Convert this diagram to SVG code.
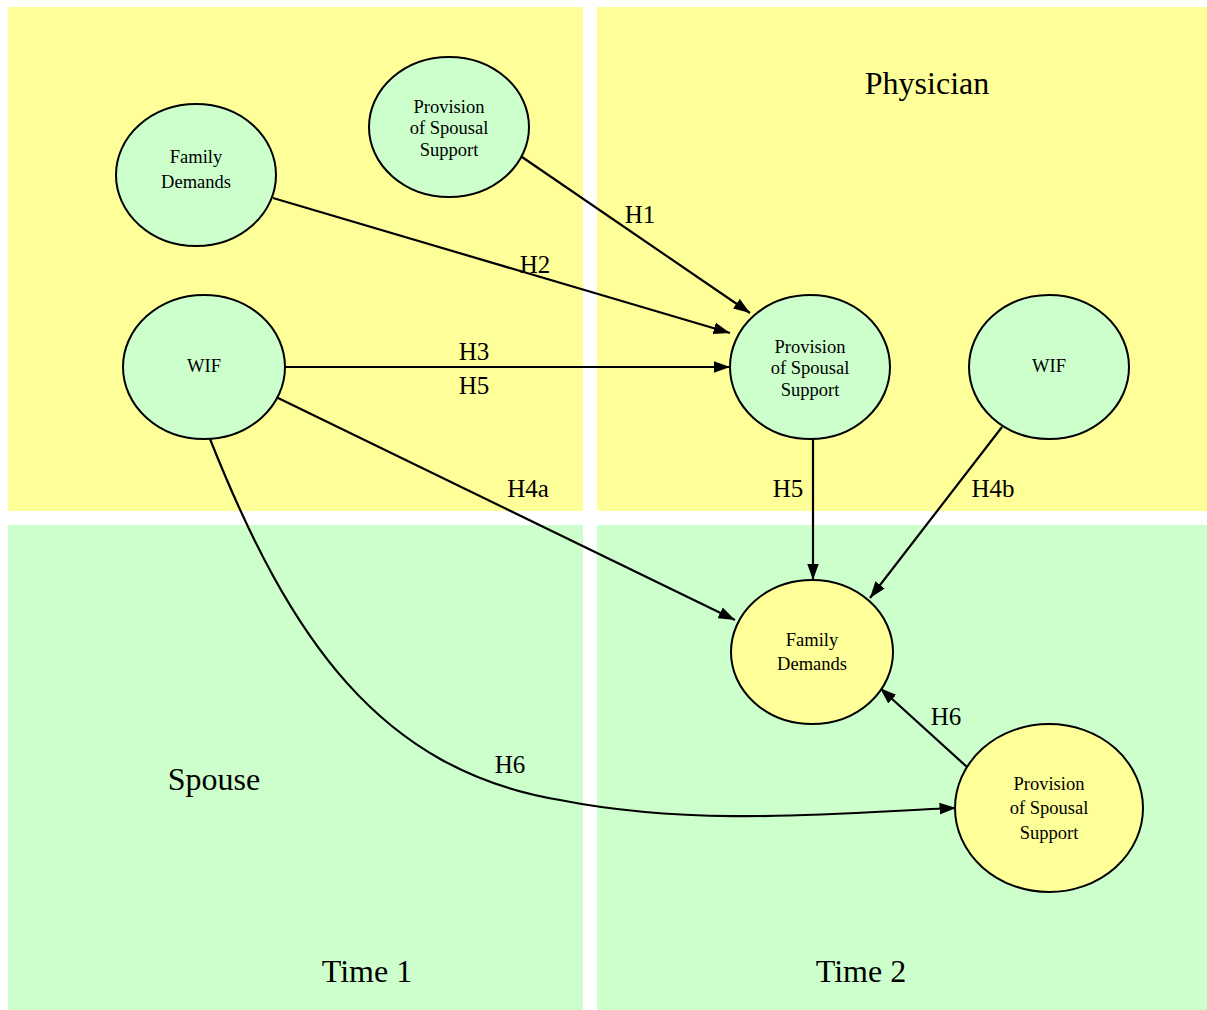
<svg xmlns="http://www.w3.org/2000/svg" width="1207" height="1010" viewBox="0 0 1207 1010">
<defs>
<style>
.node ellipse{stroke:#000;stroke-width:2}
.g{fill:#ccffcc}
.y{fill:#ffff99}
.nt{font-family:"Liberation Serif",serif;font-size:18.5px;fill:#000;text-anchor:middle}
.lbl{font-family:"Liberation Serif",serif;font-size:25px;fill:#000;text-anchor:middle}
.big{font-family:"Liberation Serif",serif;font-size:32px;fill:#000;text-anchor:middle}
.edge{fill:none;stroke:#000;stroke-width:2.2;marker-end:url(#ah)}
</style>
<marker id="ah" viewBox="0 0 14 10" refX="14" refY="5" markerWidth="7.5" markerHeight="5.4" markerUnits="strokeWidth" orient="auto">
<path d="M0,0 L14,5 L0,10 z" fill="#000"/>
</marker>
</defs>
<rect width="1207" height="1010" fill="#fff"/>
<g id="panels">
<rect x="8" y="7" width="575" height="504" fill="#ffff99"/>
<rect x="597" y="7" width="610" height="504" fill="#ffff99"/>
<rect x="8" y="525" width="575" height="485" fill="#ccffcc"/>
<rect x="597" y="525" width="610" height="485" fill="#ccffcc"/>
</g>
<g id="titles">
<text class="big" x="927" y="94">Physician</text>
<text class="big" x="214" y="790">Spouse</text>
<text class="big" x="367" y="982">Time 1</text>
<text class="big" x="861" y="982">Time 2</text>
</g>
<g id="connectors">
<path class="edge" d="M522,157 L750,313"/>
<path class="edge" d="M273,198 L730,333"/>
<path class="edge" d="M285,367 L730,367"/>
<path class="edge" d="M276,397 L735,620"/>
<path class="edge" d="M210,439 C290,640 380,770 560,800 C700,828 850,812 956,808"/>
<path class="edge" d="M813,439 L813,580"/>
<path class="edge" d="M1002,427 L870,598"/>
<path class="edge" d="M967,767 L880,688"/>
<text class="lbl" x="640" y="223">H1</text>
<text class="lbl" x="535" y="273">H2</text>
<text class="lbl" x="474" y="360">H3</text>
<text class="lbl" x="474" y="394">H5</text>
<text class="lbl" x="528" y="497">H4a</text>
<text class="lbl" x="510" y="773">H6</text>
<text class="lbl" x="788" y="497">H5</text>
<text class="lbl" x="993" y="497">H4b</text>
<text class="lbl" x="946" y="725">H6</text>
</g>
<g id="n_fd1" class="node">
<ellipse class="g" cx="196" cy="175" rx="80" ry="71"/>
<text class="nt" x="196" y="163">Family</text>
<text class="nt" x="196" y="188">Demands</text>
</g>
<g id="n_ps1" class="node">
<ellipse class="g" cx="449" cy="127" rx="80" ry="70"/>
<text class="nt" x="449" y="113">Provision</text>
<text class="nt" x="449" y="134">of Spousal</text>
<text class="nt" x="449" y="156">Support</text>
</g>
<g id="n_wif1" class="node">
<ellipse class="g" cx="204" cy="367" rx="81" ry="72"/>
<text class="nt" x="204" y="372">WIF</text>
</g>
<g id="n_ps2" class="node">
<ellipse class="g" cx="810" cy="367" rx="80" ry="72"/>
<text class="nt" x="810" y="353">Provision</text>
<text class="nt" x="810" y="374">of Spousal</text>
<text class="nt" x="810" y="396">Support</text>
</g>
<g id="n_wif2" class="node">
<ellipse class="g" cx="1049" cy="367" rx="80" ry="72"/>
<text class="nt" x="1049" y="372">WIF</text>
</g>
<g id="n_fd2" class="node">
<ellipse class="y" cx="812" cy="652" rx="81" ry="72"/>
<text class="nt" x="812" y="646">Family</text>
<text class="nt" x="812" y="670">Demands</text>
</g>
<g id="n_ps3" class="node">
<ellipse class="y" cx="1049" cy="808" rx="94" ry="84"/>
<text class="nt" x="1049" y="790">Provision</text>
<text class="nt" x="1049" y="814">of Spousal</text>
<text class="nt" x="1049" y="839">Support</text>
</g>
</svg>
